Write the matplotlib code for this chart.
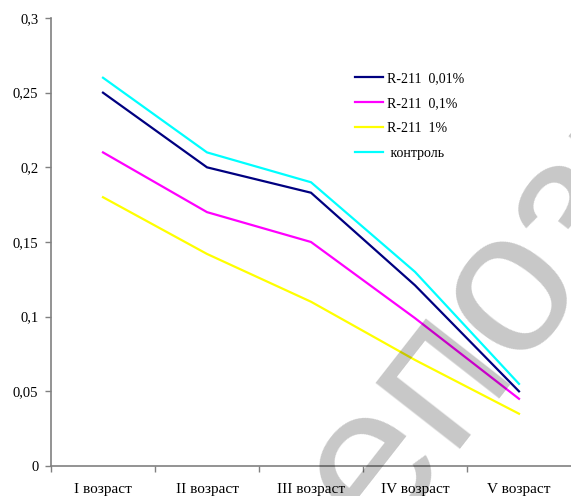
import matplotlib.pyplot as plt
from matplotlib.ticker import FixedLocator, FuncFormatter

ages = ["I возраст", "II возраст", "III возраст", "IV возраст", "V возраст"]
r211_001 = [0.25, 0.20, 0.183, 0.121, 0.05]
r211_01 = [0.21, 0.17, 0.15, 0.099, 0.045]
r211_1 = [0.18, 0.142, 0.11, 0.071, 0.035]
kontrol = [0.26, 0.21, 0.19, 0.13, 0.055]

series = [
    (r211_001, "R-211  0,01%", "#000080"),
    (r211_01, "R-211  0,1%", "#ff00ff"),
    (r211_1, "R-211  1%", "#ffff00"),
    (kontrol, " контроль", "#00ffff"),
]

plt.rcParams["font.family"] = ["Liberation Serif", "DejaVu Serif"]

fig = plt.figure(figsize=(5.71, 4.96), dpi=100)
ax = fig.add_axes([51 / 571, 30 / 496, 520 / 571, 448 / 496])

x = list(range(len(ages)))
for vals, lab, col in series:
    ax.plot(x, vals, color=col, lw=1.6, label=lab, solid_joinstyle="miter")

ax.set_xlim(-0.5, len(ages) - 0.5)
ax.set_ylim(0, 0.3)

ax.set_xticks(x)
ax.set_xticklabels(ages, fontsize=11)
ax.xaxis.set_minor_locator(FixedLocator([i - 0.5 for i in x]))
ax.tick_params(axis="x", which="major", length=0, pad=12)
ax.tick_params(axis="x", which="minor", length=4, width=1, color="#808080")

ax.set_yticks([0, 0.05, 0.1, 0.15, 0.2, 0.25, 0.3])
ax.yaxis.set_major_formatter(FuncFormatter(lambda v, p: ("%g" % round(v, 2)).replace(".", ",")))
ax.tick_params(axis="y", length=4, width=1, color="#808080", pad=5, labelsize=10.5)

for s in ["top", "right"]:
    ax.spines[s].set_visible(False)
for s in ["left", "bottom"]:
    ax.spines[s].set_color("#808080")
    ax.spines[s].set_linewidth(1.2)

ax.legend(loc="upper left", bbox_to_anchor=(0.561, 0.907), frameon=False,
          fontsize=10, handlelength=2.0, handletextpad=0.3, labelspacing=0.85)

# watermark
fig.text(0.541, -0.262, "репозиторий", family="Liberation Sans",
         fontsize=146, color="black", alpha=0.22, rotation=52,
         rotation_mode="anchor", ha="left", va="baseline")

fig.savefig("out.png", dpi=100)
